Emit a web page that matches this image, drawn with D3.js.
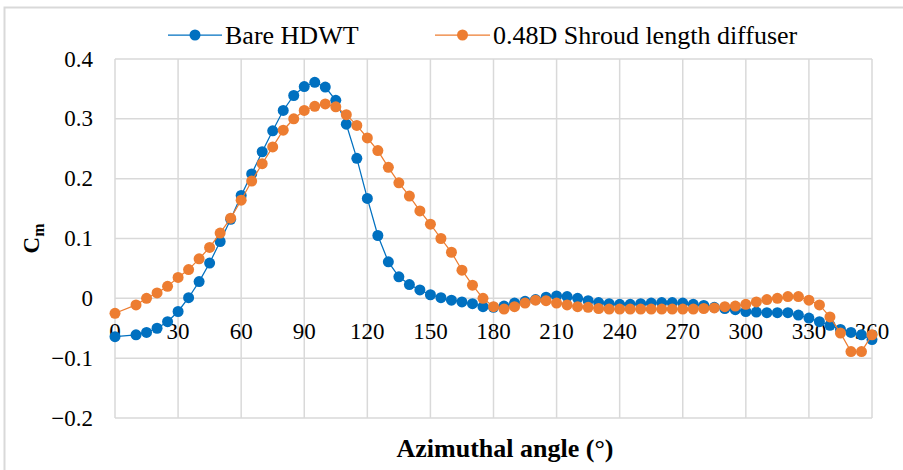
<!DOCTYPE html>
<html>
<head>
<meta charset="utf-8">
<script src="https://cdn.jsdelivr.net/npm/d3@7"></script>
</head>
<body style="margin:0">
<svg id="cm-plot" width="903" height="470" font-family="Liberation Serif"></svg>
<script>
// Azimuthal positions (degrees) shared by both series
const angles = [0, 10, 15, 20, 25, 30, 35, 40, 45, 50, 55, 60, 65, 70, 75, 80, 85, 90, 95, 100,
  105, 110, 115, 120, 125, 130, 135, 140, 145, 150, 155, 160, 165, 170, 175, 180, 185, 190, 195, 200,
  205, 210, 215, 220, 225, 230, 235, 240, 245, 250, 255, 260, 265, 270, 275, 280, 285, 290, 295, 300,
  305, 310, 315, 320, 325, 330, 335, 340, 345, 350, 355, 360];

// Moment coefficient, bare turbine
const bareHDWT = [-0.064, -0.061, -0.057, -0.050, -0.039, -0.022, 0.001, 0.028, 0.059, 0.095,
  0.132, 0.172, 0.208, 0.245, 0.280, 0.314, 0.339, 0.354, 0.361, 0.353,
  0.331, 0.291, 0.234, 0.167, 0.105, 0.061, 0.036, 0.023, 0.014, 0.006,
  0.001, -0.003, -0.006, -0.009, -0.014, -0.015, -0.013, -0.008, -0.005, -0.002,
  0.002, 0.004, 0.003, 0.000, -0.004, -0.007, -0.009, -0.010, -0.010, -0.009,
  -0.008, -0.007, -0.007, -0.008, -0.010, -0.012, -0.015, -0.017, -0.019, -0.022,
  -0.023, -0.024, -0.024, -0.024, -0.028, -0.033, -0.039, -0.045, -0.052, -0.057,
  -0.061, -0.069];

// Moment coefficient, turbine with 0.48D shroud length diffuser
const shroudDiffuser = [-0.025, -0.011, 0.000, 0.009, 0.020, 0.035, 0.048, 0.066, 0.085, 0.109,
  0.134, 0.164, 0.196, 0.225, 0.253, 0.281, 0.300, 0.314, 0.321, 0.325,
  0.320, 0.307, 0.289, 0.268, 0.247, 0.219, 0.193, 0.171, 0.146, 0.124,
  0.100, 0.077, 0.047, 0.022, 0.000, -0.014, -0.018, -0.014, -0.008, -0.003,
  -0.004, -0.008, -0.011, -0.014, -0.015, -0.017, -0.018, -0.018, -0.018, -0.018,
  -0.018, -0.018, -0.018, -0.018, -0.018, -0.017, -0.016, -0.014, -0.013, -0.010,
  -0.006, -0.002, 0.000, 0.003, 0.003, -0.003, -0.011, -0.031, -0.058, -0.089,
  -0.089, -0.061];

const seriesNames = ["Bare HDWT", "0.48D Shroud length diffuser"];
const seriesColors = ["#0070C0", "#ED7D31"];

const xTicks = [0, 30, 60, 90, 120, 150, 180, 210, 240, 270, 300, 330, 360];
const yTicks = [-0.2, -0.1, 0, 0.1, 0.2, 0.3, 0.4];

const FONT = "Times New Roman";

const svg = d3.select("#cm-plot");

// Serif text helper: family set both as attribute and inline style
function serif(sel) {
  return sel.attr("font-family", FONT).style("font-family", `'${FONT}'`);
}

// Outer chart frame
svg.append("rect")
  .attr("x", 4.5).attr("y", 7.5)
  .attr("width", 910).attr("height", 480)
  .attr("fill", "none").attr("stroke", "#d9d9d9").attr("stroke-width", 2);

const plot = { left: 115, right: 872, top: 59, bottom: 418 };

const x = d3.scaleLinear().domain([0, 360]).range([plot.left, plot.right]);
const y = d3.scaleLinear().domain([-0.2, 0.4]).range([plot.bottom, plot.top]);

// Gridlines (also form the plot-area border)
const grid = svg.append("g").attr("stroke", "#d9d9d9").attr("stroke-width", 1.5);
grid.selectAll("line.v").data(xTicks).join("line")
  .attr("x1", d => x(d)).attr("x2", d => x(d))
  .attr("y1", plot.top).attr("y2", plot.bottom);
grid.selectAll("line.h").data(yTicks).join("line")
  .attr("y1", d => y(d)).attr("y2", d => y(d))
  .attr("x1", plot.left).attr("x2", plot.right);

// Tick labels, positioned through the scales
serif(svg.append("g").selectAll("text").data(yTicks).join("text"))
  .attr("x", 93).attr("y", d => y(d) + 7.5)
  .attr("text-anchor", "end")
  .attr("font-size", 23)
  .text(d => d === 0 ? "0" : d3.format(".1f")(d));

serif(svg.append("g").selectAll("text").data(xTicks).join("text"))
  .attr("x", d => x(d)).attr("y", y(0) + 41)
  .attr("text-anchor", "middle")
  .attr("font-size", 23)
  .text(d3.format("d"));

// Series: thin line with round markers
const datasets = [bareHDWT, shroudDiffuser];
datasets.forEach((vals, i) => {
  const pts = angles.map((a, k) => [a, vals[k]]);
  const g = svg.append("g");
  g.append("path")
    .datum(pts)
    .attr("fill", "none")
    .attr("stroke", seriesColors[i])
    .attr("stroke-width", 1.25)
    .attr("d", d3.line().x(d => x(d[0])).y(d => y(d[1])));
  g.selectAll("circle").data(pts).join("circle")
    .attr("cx", d => x(d[0])).attr("cy", d => y(d[1]))
    .attr("r", 5.5)
    .attr("fill", seriesColors[i]);
});

// Legend
const legendItems = [
  { x0: 168, x1: 222, tx: 225 },
  { x0: 435, x1: 490, tx: 493 }
];
legendItems.forEach((it, i) => {
  const g = svg.append("g");
  g.append("line").attr("x1", it.x0).attr("x2", it.x1).attr("y1", 35).attr("y2", 35)
    .attr("stroke", seriesColors[i]).attr("stroke-width", 1.25);
  g.append("circle").attr("cx", (it.x0 + it.x1) / 2).attr("cy", 35).attr("r", 5.5)
    .attr("fill", seriesColors[i]);
  serif(g.append("text")).attr("x", it.tx).attr("y", 43.5)
    .attr("font-size", 26)
    .text(seriesNames[i]);
});

// Axis titles
serif(svg.append("text"))
  .attr("x", 505).attr("y", 456.5)
  .attr("text-anchor", "middle")
  .attr("font-size", 26).attr("font-weight", "bold")
  .text("Azimuthal angle (°)");

const yTitle = serif(svg.append("text"))
  .attr("transform", `translate(39,${(plot.top + plot.bottom) / 2}) rotate(-90)`)
  .attr("text-anchor", "middle")
  .attr("font-weight", "bold");
yTitle.append("tspan").attr("font-size", 23).text("C");
yTitle.append("tspan").attr("font-size", 16).attr("dy", 5).text("m");
</script>
</body>
</html>
